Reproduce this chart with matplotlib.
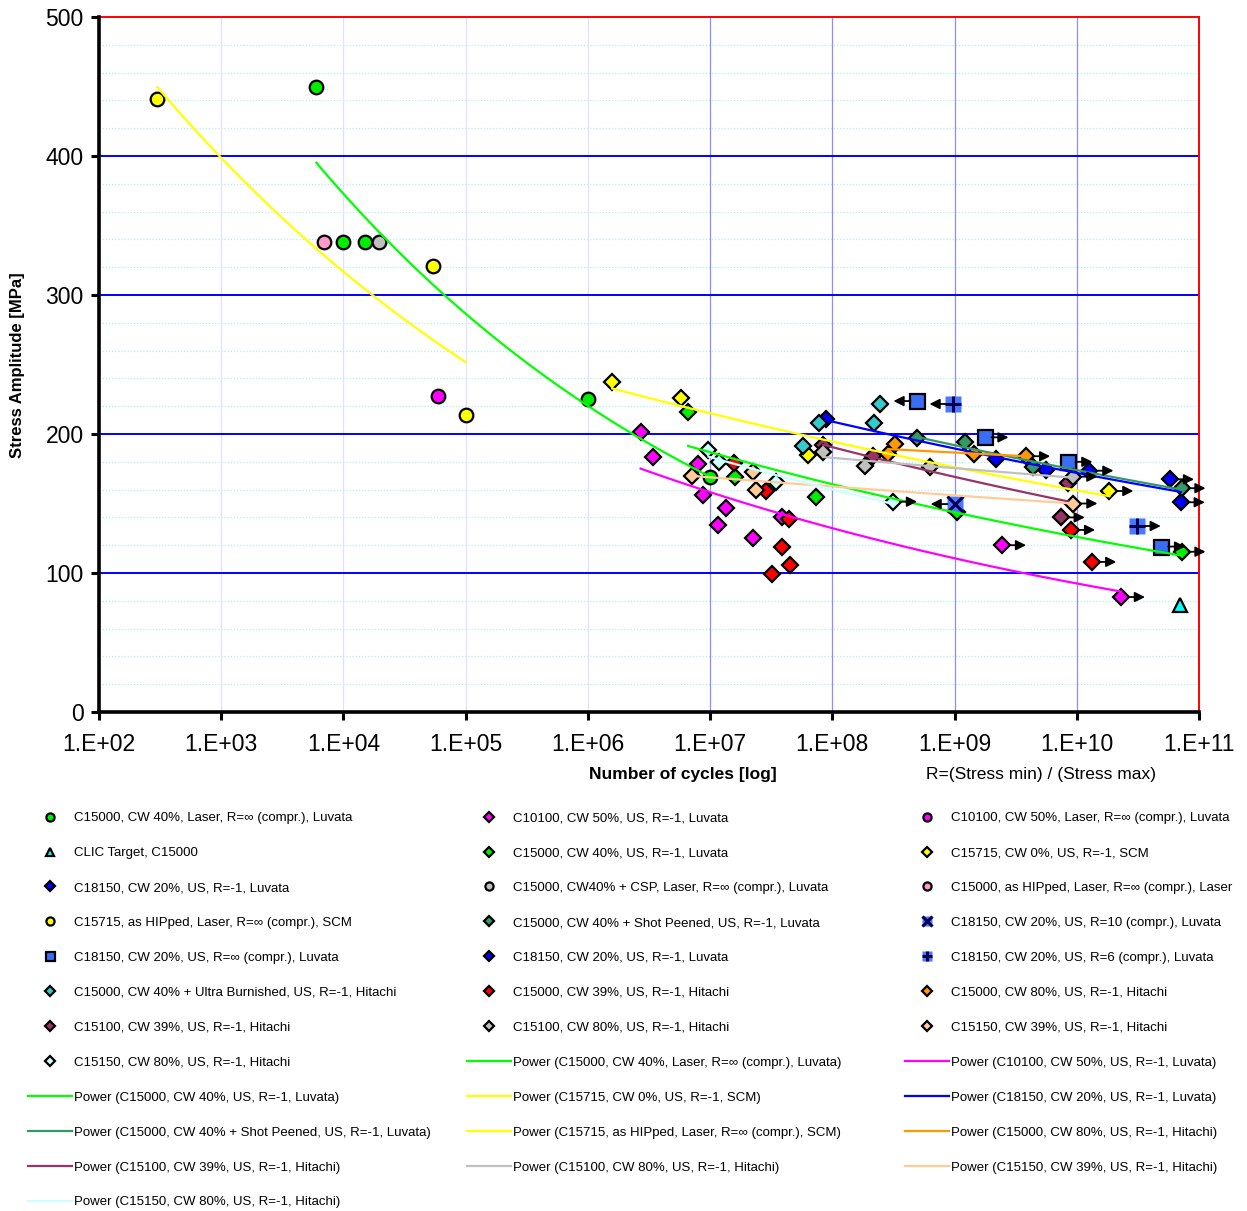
import numpy as np
import matplotlib
matplotlib.use('Agg')
import matplotlib.pyplot as plt
from matplotlib.ticker import FixedLocator, FuncFormatter, NullLocator
from matplotlib.transforms import offset_copy

plt.rcParams['font.family'] = ['Liberation Sans', 'DejaVu Sans']

# values: cycles N, stress amplitude S [MPa]
# run lists: 1 = run-out arrow to the right, -1 = arrow to the left
c15000_laser_n = [6.0e3, 1.0e4, 1.5e4, 1.0e6, 1.0e7]
c15000_laser_s = [450, 338, 338, 225, 169]

c10100_us_n = [2.7e6, 3.4e6, 8.0e6, 8.7e6, 1.35e7, 1.15e7, 2.24e7, 3.9e7, 2.45e9, 2.3e10]
c10100_us_s = [201.6, 183.7, 178.4, 156, 146.5, 134.5, 125, 140.5, 120, 82.7]
c10100_us_run = [0, 0, 0, 0, 0, 0, 0, 0, 1, 1]

c10100_laser_n = [5.9e4]
c10100_laser_s = [227]

clic_n = [7.0e10]
clic_s = [77]

c15000_us_n = [6.6e6, 1.6e7, 7.4e7, 1.05e9, 7.2e10]
c15000_us_s = [216, 169, 154.5, 144, 115.3]
c15000_us_run = [0, 0, 0, 0, 1]

c15715_us_n = [1.58e6, 5.8e6, 6.3e7, 1.85e10]
c15715_us_s = [237.4, 226, 185, 159]
c15715_us_run = [0, 0, 0, 1]

c18150_us_n = [8.9e7, 2.2e9, 5.6e9, 1.27e10, 5.8e10, 7.1e10]
c18150_us_s = [210.5, 182, 174, 173.6, 167.4, 150.9]
c18150_us_run = [0, 0, 0, 1, 1, 1]

c15000_csp_n = [1.95e4]
c15000_csp_s = [338]

c15000_hip_n = [6.9e3]
c15000_hip_s = [338]

c15715_hip_n = [3.0e2, 5.4e4, 1.0e5]
c15715_hip_s = [441, 321, 214]

c15000_sp_n = [4.9e8, 1.22e9, 4.4e9, 7.2e10]
c15000_sp_s = [197, 194.5, 176, 161]
c15000_sp_run = [0, 0, 0, 1]

c18150_r10_n = [1.0e9]
c18150_r10_s = [149.6]
c18150_r10_run = [-1]

c18150_rinf_n = [4.97e8, 1.76e9, 8.55e9, 4.9e10]
c18150_rinf_s = [223.7, 197.6, 180, 119]
c18150_rinf_run = [-1, 1, 1, 1]

c18150_r6_n = [9.8e8, 3.1e10]
c18150_r6_s = [221.6, 133.8]
c18150_r6_run = [-1, 1]

c15000_ub_n = [2.45e8, 2.2e8, 7.8e7, 5.8e7]
c15000_ub_s = [221.6, 208, 208, 191.4]

c15000_cw39_n = [1.58e7, 2.87e7, 4.45e7, 3.9e7, 4.5e7, 3.2e7, 9.0e9, 1.34e10]
c15000_cw39_s = [179, 159, 139, 119, 105.8, 99.3, 131, 108]
c15000_cw39_run = [0, 0, 0, 0, 0, 0, 1, 1]

c15000_cw80_n = [3.27e8, 2.88e8, 1.43e9, 3.86e9]
c15000_cw80_s = [192.8, 185.6, 185.6, 184]
c15000_cw80_run = [0, 0, 0, 1]

c15100_cw39_n = [8.4e7, 2.16e8, 8.5e9, 7.4e9]
c15100_cw39_s = [192, 184, 164.5, 140]
c15100_cw39_run = [0, 0, 0, 1]

c15100_cw80_n = [8.4e7, 1.85e8, 6.3e8, 9.4e9]
c15100_cw80_s = [187, 177, 176.5, 169.3]
c15100_cw80_run = [0, 0, 0, 1]

c15150_cw39_n = [7.1e6, 2.26e7, 2.38e7, 9.4e9]
c15150_cw39_s = [169.8, 173, 160, 150]
c15150_cw39_run = [0, 0, 0, 1]

c15150_cw80_n = [9.7e6, 1.19e7, 3.47e7, 3.14e8]
c15150_cw80_s = [188.5, 180, 165.7, 151.3]
c15150_cw80_run = [0, 0, 0, 1]

W, H = 1247, 1211
fig = plt.figure(figsize=(W / 100, H / 100), dpi=100, facecolor='white')
ax = fig.add_axes([99 / W, 1 - 712 / H, 1100 / W, 695 / H])

DMS = 7.8  # diamond marker size


def power_fit(n, s):
    """Excel style power trendline: straight line in log-log space."""
    b, ln_a = np.polyfit(np.log(n), np.log(s), 1)
    xs = np.geomspace(min(n), max(n), 120)
    return xs, np.exp(ln_a) * xs ** b


def draw_runouts(n, s, run):
    for x, y, d in zip(n, s, run):
        if d == 0:
            continue
        head = offset_copy(ax.transData, fig=fig, x=d * 24, y=0, units='dots')
        tail = offset_copy(ax.transData, fig=fig, x=d * 7, y=0, units='dots')
        ax.annotate('', xy=(x, y), xycoords=head, xytext=(x, y), textcoords=tail,
                    arrowprops=dict(arrowstyle='-|>,head_length=0.6,head_width=0.3',
                                    color='black', lw=1.3, shrinkA=0, shrinkB=0),
                    zorder=6)


def markers(n, s, marker, color, ms=9.8, run=None):
    h, = ax.plot(n, s, ls='none', marker=marker, ms=ms, mfc=color, mec='black',
                 mew=1.6, zorder=3)
    if run is not None:
        draw_runouts(n, s, run)
    return h


def boxed(n, s, glyph, run):
    bg, = ax.plot(n, s, ls='none', marker='s', ms=11, mfc='#4a78ff', mec='none', zorder=3)
    fg, = ax.plot(n, s, ls='none', marker=glyph, ms=12, mec='#000050', mew=2.2, zorder=3)
    draw_runouts(n, s, run)
    return (bg, fg)


def trend(n, s, color, lw=1.6):
    xs, ys = power_fit(n, s)
    h, = ax.plot(xs, ys, color=color, lw=lw, zorder=5)
    return h


# grid
for y in range(20, 500, 20):
    if y % 100:
        ax.axhline(y, color='#aef0f0', lw=0.9, ls=(0, (1, 1.5)), zorder=0.5)
for y in range(100, 500, 100):
    ax.axhline(y, color='#0000ff', lw=1.4, zorder=0.6)
for e in range(3, 11):
    ax.axvline(10.0 ** e, color='#e2e2ff' if e < 7 else '#8c8cff', lw=0.9, zorder=0.5)

# series in the order of the legend (row-major)
h_laser = markers(c15000_laser_n, c15000_laser_s, 'o', '#00ee00')
h_c10100_us = markers(c10100_us_n, c10100_us_s, 'D', '#ff00ff', ms=DMS, run=c10100_us_run)
h_c10100_laser = markers(c10100_laser_n, c10100_laser_s, 'o', '#ff00ff')
h_clic = markers(clic_n, clic_s, '^', '#00ffff', ms=10.5)
h_c15000_us = markers(c15000_us_n, c15000_us_s, 'D', '#00ee00', ms=DMS, run=c15000_us_run)
h_c15715_us = markers(c15715_us_n, c15715_us_s, 'D', '#ffff00', ms=DMS, run=c15715_us_run)
h_c18150_us = markers(c18150_us_n, c18150_us_s, 'D', '#0000ff', ms=DMS, run=c18150_us_run)
h_csp = markers(c15000_csp_n, c15000_csp_s, 'o', '#c0c0c0')
h_hip = markers(c15000_hip_n, c15000_hip_s, 'o', '#ff99cc')
h_c15715_hip = markers(c15715_hip_n, c15715_hip_s, 'o', '#ffff00')
h_sp = markers(c15000_sp_n, c15000_sp_s, 'D', '#339966', ms=DMS, run=c15000_sp_run)
h_r10 = boxed(c18150_r10_n, c18150_r10_s, 'x', c18150_r10_run)
h_rinf = markers(c18150_rinf_n, c18150_rinf_s, 's', '#3a6df5', ms=10.8, run=c18150_rinf_run)
h_r6 = boxed(c18150_r6_n, c18150_r6_s, '+', c18150_r6_run)
h_ub = markers(c15000_ub_n, c15000_ub_s, 'D', '#33cccc', ms=DMS)
h_cw39 = markers(c15000_cw39_n, c15000_cw39_s, 'D', '#ff0000', ms=DMS, run=c15000_cw39_run)
h_cw80 = markers(c15000_cw80_n, c15000_cw80_s, 'D', '#ff9900', ms=DMS, run=c15000_cw80_run)
h_15100_39 = markers(c15100_cw39_n, c15100_cw39_s, 'D', '#993366', ms=DMS, run=c15100_cw39_run)
h_15100_80 = markers(c15100_cw80_n, c15100_cw80_s, 'D', '#c0c0c0', ms=DMS, run=c15100_cw80_run)
h_15150_39 = markers(c15150_cw39_n, c15150_cw39_s, 'D', '#ffcc99', ms=DMS, run=c15150_cw39_run)
h_15150_80 = markers(c15150_cw80_n, c15150_cw80_s, 'D', '#ccffff', ms=DMS, run=c15150_cw80_run)

t_laser = trend(c15000_laser_n, c15000_laser_s, '#00ff00')
t_c10100 = trend(c10100_us_n, c10100_us_s, '#ff00ff')
t_c15000_us = trend(c15000_us_n, c15000_us_s, '#00ff00')
t_c15715_us = trend(c15715_us_n, c15715_us_s, '#ffff00')
t_c18150 = trend(c18150_us_n, c18150_us_s, '#0000ff')
t_sp = trend(c15000_sp_n, c15000_sp_s, '#339966')
t_c15715_hip = trend(c15715_hip_n, c15715_hip_s, '#ffff00')
t_cw80 = trend(c15000_cw80_n, c15000_cw80_s, '#ff9900')
t_15100_39 = trend(c15100_cw39_n, c15100_cw39_s, '#993366')
t_15100_80 = trend(c15100_cw80_n, c15100_cw80_s, '#c0c0c0')
t_15150_39 = trend(c15150_cw39_n, c15150_cw39_s, '#ffcc99')
t_15150_80 = trend(c15150_cw80_n, c15150_cw80_s, '#ccffff')

# axes
ax.set_xscale('log')
ax.set_xlim(1e2, 1e11)
ax.set_ylim(0, 500)
ax.xaxis.set_major_locator(FixedLocator(10.0 ** np.arange(2, 12)))
ax.xaxis.set_minor_locator(NullLocator())
ax.xaxis.set_major_formatter(FuncFormatter(lambda v, p: f'1.E+{int(round(np.log10(v))):02d}'))
ax.set_yticks(np.arange(0, 501, 100))
ax.tick_params(axis='both', direction='out', length=6, width=2.2, labelsize=16.5, pad=5,
               top=False, right=False)
ax.tick_params(axis='x', pad=9)
for side in ('left', 'bottom'):
    ax.spines[side].set_linewidth(2.6)
    ax.spines[side].set_color('black')
    ax.spines[side].set_zorder(7)
for side in ('top', 'right'):
    ax.spines[side].set_linewidth(1.4)
    ax.spines[side].set_color('#ff0000')

fig.text(683 / W, 1 - 775 / H, 'Number of cycles [log]', ha='center', va='center',
         fontsize=12.5, fontweight='bold')
fig.text(1041 / W, 1 - 775 / H, 'R=(Stress min) / (Stress max)', ha='center', va='center',
         fontsize=12.5)
fig.text(18 / W, 1 - 365 / H, 'Stress Amplitude [MPa]', rotation=90, ha='center', va='center',
         fontsize=12, fontweight='bold')

# legend, row-major like the original
entries = [
    (h_laser, 'C15000, CW 40%, Laser, R=∞ (compr.), Luvata'),
    (h_c10100_us, 'C10100, CW 50%, US, R=-1, Luvata'),
    (h_c10100_laser, 'C10100, CW 50%, Laser, R=∞ (compr.), Luvata'),
    (h_clic, 'CLIC Target, C15000'),
    (h_c15000_us, 'C15000, CW 40%, US, R=-1, Luvata'),
    (h_c15715_us, 'C15715, CW 0%, US, R=-1, SCM'),
    (h_c18150_us, 'C18150, CW 20%, US, R=-1, Luvata'),
    (h_csp, 'C15000, CW40% + CSP, Laser, R=∞ (compr.), Luvata'),
    (h_hip, 'C15000, as HIPped, Laser, R=∞ (compr.), Laser'),
    (h_c15715_hip, 'C15715, as HIPped, Laser, R=∞ (compr.), SCM'),
    (h_sp, 'C15000, CW 40% + Shot Peened, US, R=-1, Luvata'),
    (h_r10, 'C18150, CW 20%, US, R=10 (compr.), Luvata'),
    (h_rinf, 'C18150, CW 20%, US, R=∞ (compr.), Luvata'),
    (h_c18150_us, 'C18150, CW 20%, US, R=-1, Luvata'),
    (h_r6, 'C18150, CW 20%, US, R=6 (compr.), Luvata'),
    (h_ub, 'C15000, CW 40% + Ultra Burnished, US, R=-1, Hitachi'),
    (h_cw39, 'C15000, CW 39%, US, R=-1, Hitachi'),
    (h_cw80, 'C15000, CW 80%, US, R=-1, Hitachi'),
    (h_15100_39, 'C15100, CW 39%, US, R=-1, Hitachi'),
    (h_15100_80, 'C15100, CW 80%, US, R=-1, Hitachi'),
    (h_15150_39, 'C15150, CW 39%, US, R=-1, Hitachi'),
    (h_15150_80, 'C15150, CW 80%, US, R=-1, Hitachi'),
    (t_laser, 'Power (C15000, CW 40%, Laser, R=∞ (compr.), Luvata)'),
    (t_c10100, 'Power (C10100, CW 50%, US, R=-1, Luvata)'),
    (t_c15000_us, 'Power (C15000, CW 40%, US, R=-1, Luvata)'),
    (t_c15715_us, 'Power (C15715, CW 0%, US, R=-1, SCM)'),
    (t_c18150, 'Power (C18150, CW 20%, US, R=-1, Luvata)'),
    (t_sp, 'Power (C15000, CW 40% + Shot Peened, US, R=-1, Luvata)'),
    (t_c15715_hip, 'Power (C15715, as HIPped, Laser, R=∞ (compr.), SCM)'),
    (t_cw80, 'Power (C15000, CW 80%, US, R=-1, Hitachi)'),
    (t_15100_39, 'Power (C15100, CW 39%, US, R=-1, Hitachi)'),
    (t_15100_80, 'Power (C15100, CW 80%, US, R=-1, Hitachi)'),
    (t_15150_39, 'Power (C15150, CW 39%, US, R=-1, Hitachi)'),
    (t_15150_80, 'Power (C15150, CW 80%, US, R=-1, Hitachi)'),
]

col_x = [28, 467, 905]
for c in range(3):
    sub = entries[c::3]
    fig.legend([h for h, _ in sub], [l for _, l in sub], loc='upper left',
               bbox_to_anchor=(col_x[c] / W, 1 - 812 / H), frameon=False, fontsize=9.5,
               handlelength=3.3, handletextpad=0.15, labelspacing=1.72, borderpad=0,
               borderaxespad=0, markerscale=0.6)

fig.savefig('out.png', dpi=100, facecolor='white')
